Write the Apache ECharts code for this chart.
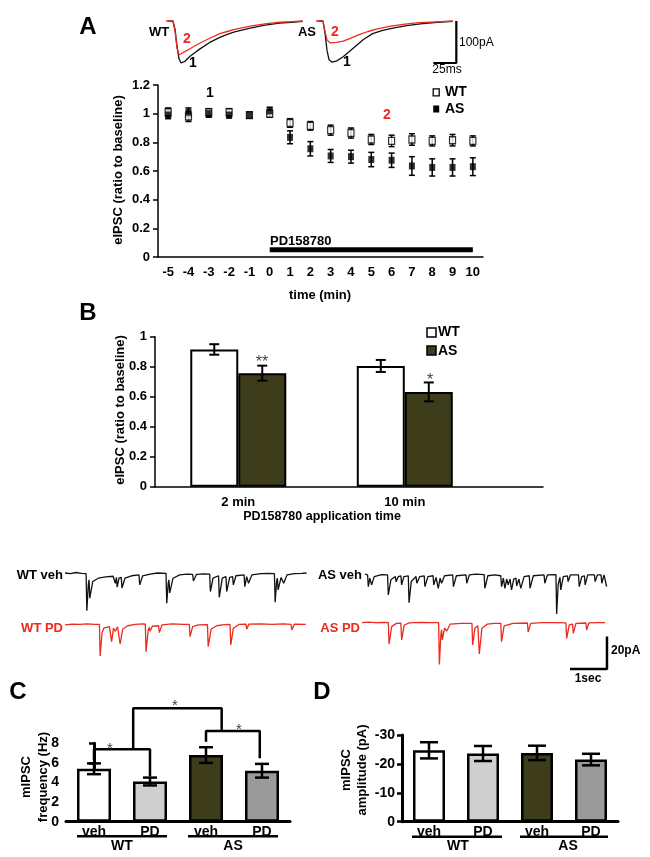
<!DOCTYPE html>
<html><head><meta charset="utf-8">
<script src="https://cdn.jsdelivr.net/npm/echarts@6/dist/echarts.min.js"></script>
<style>html,body{margin:0;padding:0;background:#fff}#c{width:650px;height:857px}</style>
</head><body><div id="c"></div>
<script>
// ---------- DATA ----------
// Panel A: example eIPSC traces (ms, pA); 1 = baseline, 2 = after PD158780
const eTraceWT1 = [[-4,0],[1,0],[3.3,-20],[5.4,-60],[7.6,-90],[9.8,-100],[14,-96],[19.6,-84],[25,-75],[30,-67],[41,-51],[52,-39],[60,-32],[68,-26],[85,-17],[101,-10],[117,-5],[130,-3],[142,-1]];
const eTraceWT2 = [[-6.5,0],[1,0],[3.3,-25],[5.4,-65],[7.6,-80],[9.8,-78],[14,-73],[19.6,-66],[25,-59],[30,-53],[41,-41],[52,-30],[60,-25],[68,-20],[85,-12],[101,-7],[117,-3],[130,-1.5],[142,0]];
const eTraceAS1 = [[-4,0],[1,0],[3.3,-30],[5.4,-70],[7.6,-92],[11,-98],[16,-95],[23,-85],[30,-72],[38,-57],[45,-44],[55,-30],[65,-23],[77,-17],[92,-11],[107,-7],[125,-3],[142,-1]];
const eTraceAS2 = [[-6.5,0],[1,0],[3.3,-25],[5.4,-45],[8.7,-52],[16,-51],[23,-48],[30,-42],[41,-32],[50,-25],[60,-19],[75,-12],[88,-8],[105,-4],[125,-2],[142,0]];
const scaleA = {pA: 100, ms: 25};

// Panel A: time course
const timeCats = ['-5','-4','-3','-2','-1','0','1','2','3','4','5','6','7','8','9','10'];
const wtMean = [1.01,0.98,1.01,1.01,0.99,1.00,0.935,0.915,0.885,0.865,0.82,0.81,0.82,0.81,0.815,0.81];
const wtErr  = [0.03,0.035,0.025,0.025,0.02,0.025,0.03,0.03,0.035,0.035,0.035,0.04,0.04,0.035,0.04,0.035];
const asMean = [0.99,1.01,1.00,0.99,0.99,1.02,0.835,0.755,0.705,0.70,0.68,0.675,0.635,0.625,0.625,0.63];
const asErr  = [0.025,0.03,0.025,0.02,0.02,0.025,0.045,0.05,0.045,0.045,0.05,0.05,0.065,0.06,0.06,0.062];
const pdWindow = ['0','10'];

// Panel B
const bCats = ['2 min','10 min'];
const bWT = [0.915,0.805], bWTErr = [0.035,0.04];
const bAS = [0.757,0.632], bASErr = [0.05,0.063];

// mIPSC example traces (s, pA)
const mWTveh = [[0,1.2],[0.15,0.8],[0.3,1.5],[0.45,1.0],[0.57,0.8],[0.59,-21.9],[0.63,-6],[0.65,-3],[0.67,-14.3],[0.75,-4],[0.9,-2],[1.1,-1.2],[1.3,-0.8],[1.34,-0.5],[1.36,-5.1],[1.39,-1.5],[1.41,-7.5],[1.46,-2],[1.52,-1.5],[1.54,-8.0],[1.62,-2],[1.8,-0.5],[2.0,0],[2.02,-6.1],[2.1,-0.5],[2.3,0.5],[2.5,1.2],[2.73,1.0],[2.75,-17.4],[2.79,-5],[2.81,-3],[2.83,-11],[2.92,-2],[3.1,0],[3.3,0.5],[3.45,0.3],[3.47,-3.7],[3.55,0.3],[3.75,0.6],[3.91,0.5],[3.93,-10.2],[4.0,-2],[4.15,-0.5],[4.17,-13.7],[4.25,-2],[4.35,-1],[4.37,-10.2],[4.45,-1.5],[4.53,-1],[4.55,-6.1],[4.62,-0.5],[4.84,0],[4.86,-7.2],[4.91,-1],[4.94,-1],[4.96,-5.1],[5.05,0],[5.3,0.8],[5.5,1.0],[5.66,0.8],[5.68,-16.7],[5.72,-4],[5.74,-2],[5.76,-9.2],[5.84,-1.5],[5.89,-1],[5.91,-5.1],[6.0,0],[6.2,0.8],[6.4,1],[6.53,1.2]];
const mWTpd = [[0,0],[0.2,0.5],[0.4,0.3],[0.6,0.6],[0.8,0.4],[0.93,0.3],[0.95,-19.0],[1.0,-5],[1.05,-2],[1.2,-1],[1.24,-0.8],[1.26,-10.2],[1.31,-2],[1.34,-1],[1.36,-3.9],[1.42,-1.2],[1.47,-1],[1.49,-11.7],[1.56,-2.5],[1.7,-0.5],[1.9,0.3],[2.1,0.6],[2.17,0.5],[2.19,-16.4],[2.25,-3],[2.28,-1.5],[2.30,-3.9],[2.36,-0.8],[2.53,-0.5],[2.55,-4.7],[2.62,0],[2.9,0.6],[3.2,0.4],[3.36,0.3],[3.38,-7.2],[3.45,-1],[3.6,0],[3.85,0.2],[3.87,-13.3],[3.95,-2.5],[4.1,-0.5],[4.3,0.2],[4.46,0.3],[4.48,-12.3],[4.55,-2],[4.7,0.3],[4.89,0.5],[4.91,-2.6],[4.97,0.5],[5.3,0.6],[5.6,0.4],[5.9,0.6],[6.11,0.4],[6.13,-3.1],[6.2,0.5],[6.51,0.4]];
const mASveh = [[0,0.5],[0.07,0],[0.09,-7.2],[0.13,-2],[0.16,-1],[0.18,-6.1],[0.25,-1],[0.45,0.2],[0.61,0],[0.63,-12.3],[0.7,-3],[0.82,-1],[0.84,-4.1],[0.9,-1],[0.97,-0.5],[0.99,-6.1],[1.05,-1],[1.17,-0.5],[1.19,-17.0],[1.25,-4],[1.38,-1],[1.40,-5.1],[1.48,-1],[1.6,-0.5],[1.62,-7.2],[1.7,-1],[1.84,-0.5],[1.86,-6.1],[1.92,-1.5],[1.96,-1],[1.98,-8.2],[2.03,-2],[2.05,-1.5],[2.07,-5.1],[2.15,-0.5],[2.37,0],[2.39,-7.2],[2.47,-0.5],[2.73,0],[2.75,-5.1],[2.82,0],[3.0,0.5],[3.22,0.2],[3.24,-8.2],[3.32,-0.5],[3.5,0],[3.67,-0.5],[3.69,-7.2],[3.74,-2],[3.76,-2],[3.78,-8.2],[3.83,-2.5],[3.85,-2],[3.87,-6.1],[3.92,-2.5],[3.94,-2],[3.96,-9.2],[4.02,-2.5],[4.08,-2],[4.10,-6.7],[4.16,-2.5],[4.19,-2],[4.21,-8.2],[4.3,-1],[4.44,-0.5],[4.46,-8.2],[4.55,-0.5],[4.84,0],[4.86,-5.1],[4.93,0],[5.16,0.2],[5.18,-23.9],[5.22,-6],[5.25,-3],[5.27,-1.5],[5.29,-9.2],[5.36,-1],[5.47,-0.5],[5.49,-4.1],[5.55,0],[5.77,0],[5.79,-7.2],[5.86,-1],[5.93,-0.5],[5.95,-6.1],[6.02,0],[6.2,0],[6.22,-4.1],[6.28,0],[6.38,0],[6.40,-5.1],[6.46,0],[6.51,0],[6.53,-7.2]];
const mASpd = [[-0.08,0.5],[0.1,0.8],[0.3,0.5],[0.5,0.6],[0.63,0.5],[0.65,-12.7],[0.72,-2],[0.85,0],[0.97,0.2],[0.99,-10.2],[1.06,-1],[1.2,0.3],[1.5,0.6],[1.8,0.5],[1.99,0.4],[2.01,-25.2],[2.05,-7],[2.07,-4],[2.09,-10.2],[2.15,-3],[2.19,-2],[2.21,-4.7],[2.3,-0.5],[2.6,0],[2.89,0],[2.91,-13.3],[2.97,-3],[3.05,-1.5],[3.07,-1.5],[3.09,-18.8],[3.16,-3],[3.3,-0.5],[3.5,0],[3.67,0],[3.69,-11.3],[3.76,-1.5],[4.0,0],[4.39,0.2],[4.41,-5.3],[4.48,0],[4.8,0.5],[5.1,0.4],[5.43,0.3],[5.45,-9.2],[5.52,-1],[5.61,-0.5],[5.63,-6.1],[5.7,0],[5.97,0.2],[5.99,-4.1],[6.05,0.3],[6.3,0.5],[6.49,0.4]];
const scaleM = {pA: 20, s: 1};

// Panels C & D
const groups = ['WT','WT','AS','AS'];
const conds  = ['veh','PD','veh','PD'];
const cMean = [5.4,4.1,6.8,5.2], cErr = [0.55,0.4,0.8,0.7];
const dMean = [-24.7,-23.6,-23.8,-21.5], dErr = [2.8,2.6,2.5,2.0];
// significance brackets in C (x = bar index, y = Hz)
const bracketC1 = [[0,6.3],[0,7.39],[1,7.39],[1,4.6]];
const bracketC2 = [[0.7,7.39],[0.7,11.57],[2.28,11.57],[2.28,9.26]];
const bracketC3 = [[2,8.16],[2,9.26],[2.96,9.26],[2.96,6.47]];

// ---------- STYLE ----------
const F = "'Liberation Sans', Arial, Helvetica, sans-serif";
const RED = '#ee2a1c', OLIVE = '#3d3d1c';
const barColors = ['#ffffff','#cfcfcf',OLIVE,'#9a9a9a'];
const lab = (s, extra) => Object.assign({fontFamily:F, fontWeight:'bold', fontSize:s, color:'#000'}, extra||{});

function errBars(cap, lw, offset) {
  return function (params, api) {
    const x = api.value(0), m = api.value(1), e = api.value(2);
    const top = api.coord([x, m + e]), bot = api.coord([x, m - e]);
    const cx = top[0] + (offset || 0);
    const st = {stroke:'#000', lineWidth: lw};
    return {type:'group', children:[
      {type:'line', shape:{x1:cx,y1:top[1],x2:cx,y2:bot[1]}, style:st},
      {type:'line', shape:{x1:cx-cap,y1:top[1],x2:cx+cap,y2:top[1]}, style:st},
      {type:'line', shape:{x1:cx-cap,y1:bot[1],x2:cx+cap,y2:bot[1]}, style:st}
    ]};
  };
}
const hiddenVal = (gi, min, max) => ({type:'value', gridIndex:gi, min, max, show:false, splitLine:{show:false}});

const grids = [
  {left:165.6, top:21, width:144.4, height:42},      // 0 eIPSC WT trace
  {left:315.6, top:21, width:144.4, height:42},      // 1 eIPSC AS trace
  {left:158, top:85, width:325, height:172},         // 2 time course
  {left:155, top:336.7, width:388, height:150},      // 3 panel B
  {left:61.3, top:566.8, width:247.9, height:57.05}, // 4 WT veh
  {left:61.3, top:616.8, width:247.9, height:57.05}, // 5 WT PD
  {left:361.3, top:566.8, width:247.9, height:57.05},// 6 AS veh
  {left:361.3, top:615.2, width:247.9, height:57.05},// 7 AS PD
  {left:66, top:743.3, width:224, height:78.4},      // 8 C
  {left:402, top:735, width:216, height:86.7}        // 9 D
];

const xAxes = [
  hiddenVal(0,-7,150), hiddenVal(1,-7,150),
  {type:'category', gridIndex:2, data:timeCats, boundaryGap:true,
   axisLine:{lineStyle:{color:'#000', width:1.5}}, axisTick:{show:false},
   axisLabel:lab(13,{margin:9, interval:0}), splitLine:{show:false}},
  {type:'value', gridIndex:3, min:0, max:2.33, interval:0.5,
   axisLine:{show:true, onZero:false, lineStyle:{color:'#000', width:1.5}}, axisTick:{show:false}, splitLine:{show:false},
   axisLabel:lab(13,{margin:9, showMaxLabel:false, formatter: v => { const i = Math.round((v-0.5)*100)/100; return (Number.isInteger(i) && bCats[i]) ? bCats[i] : ''; }})},
  hiddenVal(4,-0.1,6.6), hiddenVal(5,-0.1,6.6), hiddenVal(6,-0.1,6.6), hiddenVal(7,-0.1,6.6),
  {type:'category', gridIndex:8, data:conds.map((c,i)=>groups[i]+' '+c), boundaryGap:true,
   axisLine:{lineStyle:{color:'#000', width:3}}, axisTick:{show:false},
   axisLabel:lab(14,{margin:3, interval:0, formatter: v => v.split(' ')[1]})},
  hiddenVal(8,-0.5,3.5),
  {type:'category', gridIndex:9, data:conds.map((c,i)=>groups[i]+' '+c), boundaryGap:true,
   axisLine:{lineStyle:{color:'#000', width:3}}, axisTick:{show:false},
   axisLabel:lab(14,{margin:3, interval:0, formatter: v => v.split(' ')[1]})}
];

const yAxes = [
  hiddenVal(0,-100,0), hiddenVal(1,-100,0),
  {type:'value', gridIndex:2, min:0, max:1.2, interval:0.2,
   axisLine:{show:true, lineStyle:{color:'#000', width:1.5}}, axisTick:{show:true, length:5, lineStyle:{color:'#000', width:1.5}},
   splitLine:{show:false}, axisLabel:lab(13,{margin:8, formatter: v => String(+v.toFixed(1))})},
  {type:'value', gridIndex:3, min:0, max:1, interval:0.2,
   axisLine:{show:true, lineStyle:{color:'#000', width:1.5}}, axisTick:{show:true, length:5, lineStyle:{color:'#000', width:1.5}},
   splitLine:{show:false}, axisLabel:lab(13,{margin:8, formatter: v => String(+v.toFixed(1))})},
  hiddenVal(4,-30,5), hiddenVal(5,-30,5), hiddenVal(6,-30,5), hiddenVal(7,-30,5),
  {type:'value', gridIndex:8, min:0, max:8, interval:2,
   axisLine:{show:true, lineStyle:{color:'#000', width:3}}, axisTick:{show:true, length:5, lineStyle:{color:'#000', width:2.5}},
   splitLine:{show:false}, axisLabel:lab(14,{margin:7})},
  {type:'value', gridIndex:9, min:-30, max:0, interval:10, inverse:true,
   axisLine:{show:true, onZero:false, lineStyle:{color:'#000', width:3}}, axisTick:{show:true, length:5, lineStyle:{color:'#000', width:2.5}},
   splitLine:{show:false}, axisLabel:lab(14,{margin:7})}
];

const trace = (data, xi, color, w, z) => ({type:'line', xAxisIndex:xi, yAxisIndex:xi, data, showSymbol:false, symbol:'none',
  lineStyle:{color, width:w}, clip:false, silent:true, z:z||2, animation:false});

const series = [
  trace(eTraceWT1, 0, '#111', 1.3, 2), trace(eTraceWT2, 0, RED, 1.3, 3),
  trace(eTraceAS1, 1, '#111', 1.3, 2), trace(eTraceAS2, 1, RED, 1.3, 3),
  trace([[146-scaleA.ms,-scaleA.pA],[146,-scaleA.pA],[146,0]], 1, '#000', 2.2, 4),
  // time course
  {type:'custom', xAxisIndex:2, yAxisIndex:2, renderItem:errBars(3,1.5,0), data:wtMean.map((v,i)=>[i,v,wtErr[i]]), z:3, silent:true},
  {type:'custom', xAxisIndex:2, yAxisIndex:2, renderItem:errBars(3,1.5,0), data:asMean.map((v,i)=>[i,v,asErr[i]]), z:3, silent:true},
  {type:'scatter', name:'WT', xAxisIndex:2, yAxisIndex:2, data:wtMean, symbol:'rect', symbolSize:[6,7],
   itemStyle:{color:'#fff', borderColor:'#000', borderWidth:1.3}, z:5, silent:true},
  {type:'scatter', name:'AS', xAxisIndex:2, yAxisIndex:2, data:asMean, symbol:'rect', symbolSize:[6,7],
   itemStyle:{color:'#000'}, z:5, silent:true},
  {type:'line', xAxisIndex:2, yAxisIndex:2, data:pdWindow.map(c=>[c,0.05]), showSymbol:false, symbol:'none',
   lineStyle:{color:'#000', width:5, cap:'butt'}, silent:true},
  // panel B
  {type:'bar', name:'WT', xAxisIndex:3, yAxisIndex:3, data:bWT.map((v,i)=>[i+0.5,v]), barWidth:48, barGap:'0%',
   itemStyle:{color:'#fff', borderColor:'#000', borderWidth:2}, silent:true},
  {type:'bar', name:'AS', xAxisIndex:3, yAxisIndex:3, data:bAS.map((v,i)=>[i+0.5,v]), barWidth:48, barGap:'0%',
   itemStyle:{color:OLIVE, borderColor:'#000', borderWidth:2}, silent:true},
  {type:'custom', xAxisIndex:3, yAxisIndex:3, renderItem:errBars(5,2,-24), data:bWT.map((v,i)=>[i+0.5,v,bWTErr[i]]), z:5, silent:true},
  {type:'custom', xAxisIndex:3, yAxisIndex:3, renderItem:errBars(5,2,24), data:bAS.map((v,i)=>[i+0.5,v,bASErr[i]]), z:5, silent:true},
  // mIPSC traces
  trace(mWTveh, 4, '#111', 1.3), trace(mWTpd, 5, RED, 1.3),
  trace(mASveh, 6, '#111', 1.3), trace(mASpd, 7, RED, 1.3),
  trace([[6.54-scaleM.s,-28],[6.54,-28],[6.54,-28+scaleM.pA]], 7, '#000', 2.5, 4),
  // panel C
  {type:'bar', xAxisIndex:8, yAxisIndex:8, barWidth:34,
   data:cMean.map((v,i)=>({value:v, itemStyle:{color:barColors[i]}})),
   itemStyle:{borderColor:'#000', borderWidth:2.5}, silent:true},
  {type:'custom', xAxisIndex:8, yAxisIndex:8, renderItem:errBars(7,2.5,0), data:cMean.map((v,i)=>[i,v,cErr[i]]), z:5, silent:true},
  trace(bracketC1, 9, '#000', 2.5), trace(bracketC2, 9, '#000', 2.5), trace(bracketC3, 9, '#000', 2.5),
  // panel D
  {type:'bar', xAxisIndex:10, yAxisIndex:9, barWidth:32,
   data:dMean.map((v,i)=>({value:v, itemStyle:{color:barColors[i]}})),
   itemStyle:{borderColor:'#000', borderWidth:2.5}, silent:true},
  {type:'custom', xAxisIndex:10, yAxisIndex:9, renderItem:errBars(9,2.5,0), data:dMean.map((v,i)=>[i,v,dErr[i]]), z:5, silent:true}
];
// fix the bracket traces to use C's y axis
series.filter(s => s.xAxisIndex === 9).forEach(s => { s.yAxisIndex = 8; });

// ---------- annotations ----------
function T(x, y, text, o) {
  o = o || {};
  return {type:'text', x, y, rotation:o.rot||0, z:50, silent:true,
    style:{text, fill:o.color||'#000', fontFamily:F, fontSize:o.size||13, fontWeight:o.weight||'bold',
      textAlign:o.align||'center', align:o.align||'center', textVerticalAlign:'middle', verticalAlign:'middle',
      lineHeight:o.lh||undefined}};
}
function R(x, y, w, h, fill, stroke, lw) {
  return {type:'rect', z:50, silent:true, shape:{x, y, width:w, height:h}, style:{fill, stroke:stroke||null, lineWidth:lw||0}};
}
const graphics = [
  T(88,27,'A',{size:24}), T(88,313,'B',{size:24}), T(18,692,'C',{size:24}), T(322,692,'D',{size:24}),
  T(159,32,'WT'), T(307,32,'AS'),
  T(187,39,'2',{size:14,color:RED}), T(193,63,'1',{size:14}), T(335,32,'2',{size:14,color:RED}), T(347,62,'1',{size:14}),
  T(459,43,'100pA',{size:12,weight:'normal',align:'left'}), T(447,70,'25ms',{size:12,weight:'normal'}),
  T(210,93,'1',{size:14}), T(387,115,'2',{size:14,color:RED}),
  T(270,241,'PD158780',{size:13,align:'left'}),
  R(433.2,88.8,6,7,'#fff','#000',1.3), T(445,92,'WT',{size:14,align:'left'}),
  R(433.2,105.5,6,7,'#000'), T(445,109,'AS',{size:14,align:'left'}),
  T(118,170,'eIPSC (ratio to baseline)',{rot:Math.PI/2}),
  T(320,295,'time (min)'),
  T(120,410,'eIPSC (ratio to baseline)',{rot:Math.PI/2}),
  R(427,328,9,9,'#fff','#000',1.5), T(438,332.5,'WT',{size:14,align:'left'}),
  R(427,346,9,9,OLIVE,'#000',1.5), T(438,351,'AS',{size:14,align:'left'}),
  T(262,363,'**',{size:16,weight:'normal',color:'#444'}), T(430,381,'*',{size:16,weight:'normal',color:'#444'}),
  T(322,517,'PD158780 application time',{size:12.5}),
  T(63,575,'WT veh',{align:'right'}), T(63,628,'WT PD',{align:'right',color:RED}),
  T(362,575,'AS veh',{align:'right'}), T(360,628,'AS PD',{align:'right',color:RED}),
  T(611,651,'20pA',{size:12,align:'left'}), T(588,679,'1sec',{size:12}),
  T(35,777,'mIPSC\nfrequency (Hz)',{rot:Math.PI/2, lh:17}),
  T(354,770,'mIPSC\namplitude (pA)',{rot:Math.PI/2, lh:16}),
  T(110,749,'*',{size:15,weight:'normal',color:'#444'}), T(175,706,'*',{size:15,weight:'normal',color:'#444'}), T(239,730,'*',{size:15,weight:'normal',color:'#444'}),
  R(77,835,90,2.5,'#000'), R(188,835,90,2.5,'#000'),
  T(122,846,'WT',{size:14}), T(233,846,'AS',{size:14}),
  R(412,835.5,90,2.5,'#000'), R(520,835.5,88,2.5,'#000'),
  T(458,846,'WT',{size:14}), T(568,846,'AS',{size:14})
];

const chart = echarts.init(document.getElementById('c'), null, {renderer:'canvas'});
chart.setOption({
  animation:false, backgroundColor:'#fff',
  grid:grids, xAxis:xAxes, yAxis:yAxes, series, graphic:graphics
});
</script></body></html>
